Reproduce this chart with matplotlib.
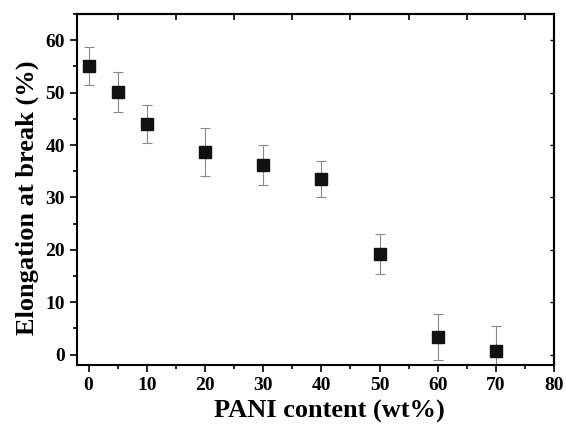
import matplotlib.pyplot as plt
from matplotlib.ticker import MultipleLocator, FixedLocator, NullLocator

# PANI content vs elongation at break
pani = [0, 5, 10, 20, 30, 40, 50, 60, 70]
elong = [55.1, 50.1, 44.0, 38.7, 36.2, 33.5, 19.2, 3.4, 0.7]
err = [3.6, 3.8, 3.6, 4.6, 3.8, 3.4, 3.8, 4.4, 4.8]

plt.rcParams['font.family'] = ['Liberation Serif', 'DejaVu Serif']
plt.rcParams['font.weight'] = 'bold'

fig = plt.figure(figsize=(5.66, 4.25), dpi=100)
ax = fig.add_axes([0.136, 0.141, 0.843, 0.826])

ax.errorbar(pani, elong, yerr=err, fmt='none', ecolor='#888888',
            elinewidth=0.8, capsize=3.5, capthick=0.8, zorder=2)
ax.plot(pani, elong, 's', color='#111111', markersize=9, zorder=3)

ax.set_xlim(-2, 80)
ax.set_ylim(-2, 65)
ax.xaxis.set_major_locator(MultipleLocator(10))
ax.xaxis.set_minor_locator(MultipleLocator(5))
ax.yaxis.set_major_locator(MultipleLocator(10))
ax.yaxis.set_minor_locator(MultipleLocator(5))

ax.tick_params(which='both', direction='out', width=1.2, labelsize=14,
               top=False, right=False)
ax.tick_params(which='major', length=5)
ax.tick_params(which='minor', length=3)

# top ticks sit between the majors, pointing inward
top = ax.secondary_xaxis('top')
top.xaxis.set_major_locator(FixedLocator([5, 15, 25, 35, 45, 55, 65, 75]))
top.xaxis.set_minor_locator(NullLocator())
top.tick_params(direction='in', length=4, width=1.2, labeltop=False)
right = ax.secondary_yaxis('right')
right.yaxis.set_major_locator(MultipleLocator(10))
right.yaxis.set_minor_locator(NullLocator())
right.tick_params(direction='in', length=3, width=1.0, labelright=False)

for s in ax.spines.values():
    s.set_linewidth(1.5)
top.spines['top'].set_linewidth(1.5)
right.spines['right'].set_linewidth(1.5)

ax.set_xlabel('PANI content (wt%)', fontsize=19, fontweight='bold')
ax.set_ylabel('Elongation at break (%)', fontsize=19, fontweight='bold')
ax.xaxis.set_label_coords(0.528, -0.10)
ax.yaxis.set_label_coords(-0.08, 0.476)

fig.savefig('out.png', dpi=100)
